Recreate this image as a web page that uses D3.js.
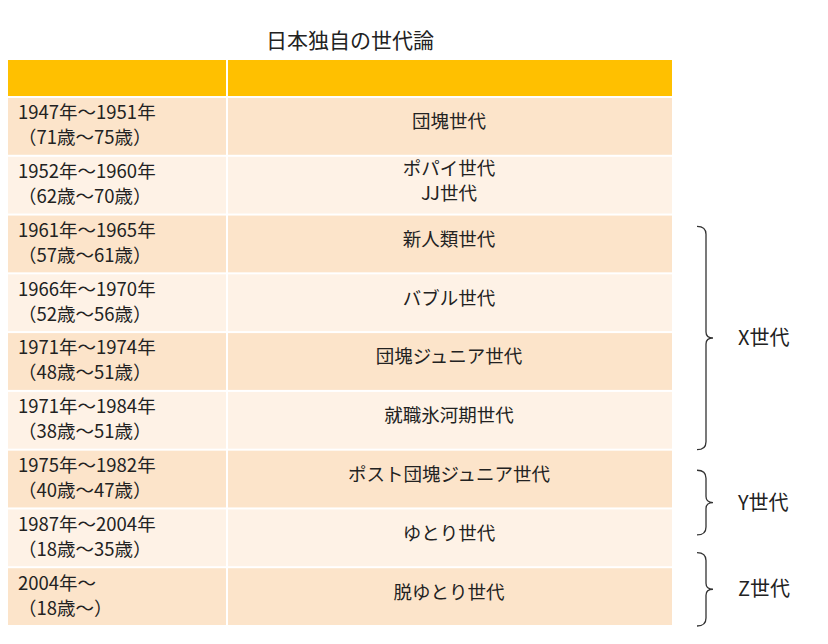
<!DOCTYPE html>
<html><head><meta charset="utf-8">
<script src="https://cdn.jsdelivr.net/npm/d3@7"></script>
<style>body{margin:0;background:#fff;font-family:"Noto Sans CJK JP","Noto Sans",sans-serif;}</style>
</head><body><svg class="chart"></svg>
<script>
const years = ["1947年～1951年","1952年～1960年","1961年～1965年","1966年～1970年","1971年～1974年","1971年～1984年","1975年～1982年","1987年～2004年","2004年～"];
const ages = ["（71歳～75歳）","（62歳～70歳）","（57歳～61歳）","（52歳～56歳）","（48歳～51歳）","（38歳～51歳）","（40歳～47歳）","（18歳～35歳）","（18歳～）"];
const names = [["団塊世代"],["ポパイ世代","JJ世代"],["新人類世代"],["バブル世代"],["団塊ジュニア世代"],["就職氷河期世代"],["ポスト団塊ジュニア世代"],["ゆとり世代"],["脱ゆとり世代"]];
// brace extents in row units (row index, fractional)
const groups = [{label:"X世代",from:2.2,to:6},{label:"Y世代",from:6.35,to:7.45},{label:"Z世代",from:7.75,to:9}];

const W = 828, H = 644;
const svg = d3.select(".chart").attr("width", W).attr("height", H);

svg.append("text").attr("x", 350).attr("y", 48).attr("text-anchor", "middle")
  .attr("font-size", 21).attr("fill", "#222").text("日本独自の世代論");

const x0 = 8, x1 = 226, x2 = 672;
const y = d3.scaleBand().domain(d3.range(years.length)).range([97, 626]).paddingInner(0);
const yr = d3.scaleLinear().domain([0, years.length]).range([97, 626]);

// header
svg.append("rect").attr("x", x0).attr("y", 60).attr("width", x1 - x0).attr("height", 36).attr("fill", "#FFC000");
svg.append("rect").attr("x", x1 + 2).attr("y", 60).attr("width", x2 - x1 - 2).attr("height", 36).attr("fill", "#FFC000");

const rows = svg.selectAll(".row").data(years).enter().append("g").attr("class", "row")
  .attr("transform", (d, i) => `translate(0, ${y(i)})`);
const bg = (i) => (i % 2 === 0 ? "#FCE4CA" : "#FEF2E6");
rows.append("rect").attr("x", x0).attr("y", 1).attr("width", x1 - x0).attr("height", y.bandwidth() - 2).attr("fill", (d, i) => bg(i));
rows.append("rect").attr("x", x1 + 2).attr("y", 1).attr("width", x2 - x1 - 2).attr("height", y.bandwidth() - 2).attr("fill", (d, i) => bg(i));

rows.append("text").attr("x", 18).attr("y", y.bandwidth() / 2 - 7).attr("font-size", 18.5).attr("fill", "#222").text((d) => d);
rows.append("text").attr("x", 18).attr("y", y.bandwidth() / 2 + 18).attr("font-size", 18.5).attr("fill", "#222").text((d, i) => ages[i]);

rows.each(function (d, i) {
  const n = names[i];
  d3.select(this).selectAll(".nm").data(n).enter().append("text")
    .attr("x", (x1 + x2) / 2).attr("text-anchor", "middle").attr("font-size", 18.5).attr("fill", "#222")
    .attr("y", (t, j) => y.bandwidth() / 2 + 2 + (j - (n.length - 1) / 2) * 25)
    .text((t) => t);
});

// braces
const bx = 697;
groups.forEach((g) => {
  const top = yr(g.from), bot = yr(g.to), mid = (top + bot) / 2;
  const p = d3.path();
  p.moveTo(bx, top);
  p.quadraticCurveTo(bx + 9, top, bx + 9, top + 8);
  p.lineTo(bx + 9, mid - 6);
  p.quadraticCurveTo(bx + 9, mid, bx + 16, mid);
  p.quadraticCurveTo(bx + 9, mid, bx + 9, mid + 6);
  p.lineTo(bx + 9, bot - 8);
  p.quadraticCurveTo(bx + 9, bot, bx, bot);
  svg.append("path").attr("d", p.toString()).attr("fill", "none").attr("stroke", "#333").attr("stroke-width", 1.3);
  svg.append("text").attr("x", 738).attr("y", mid + 7).attr("font-size", 20).attr("fill", "#222").text(g.label);
});
</script></body></html>
